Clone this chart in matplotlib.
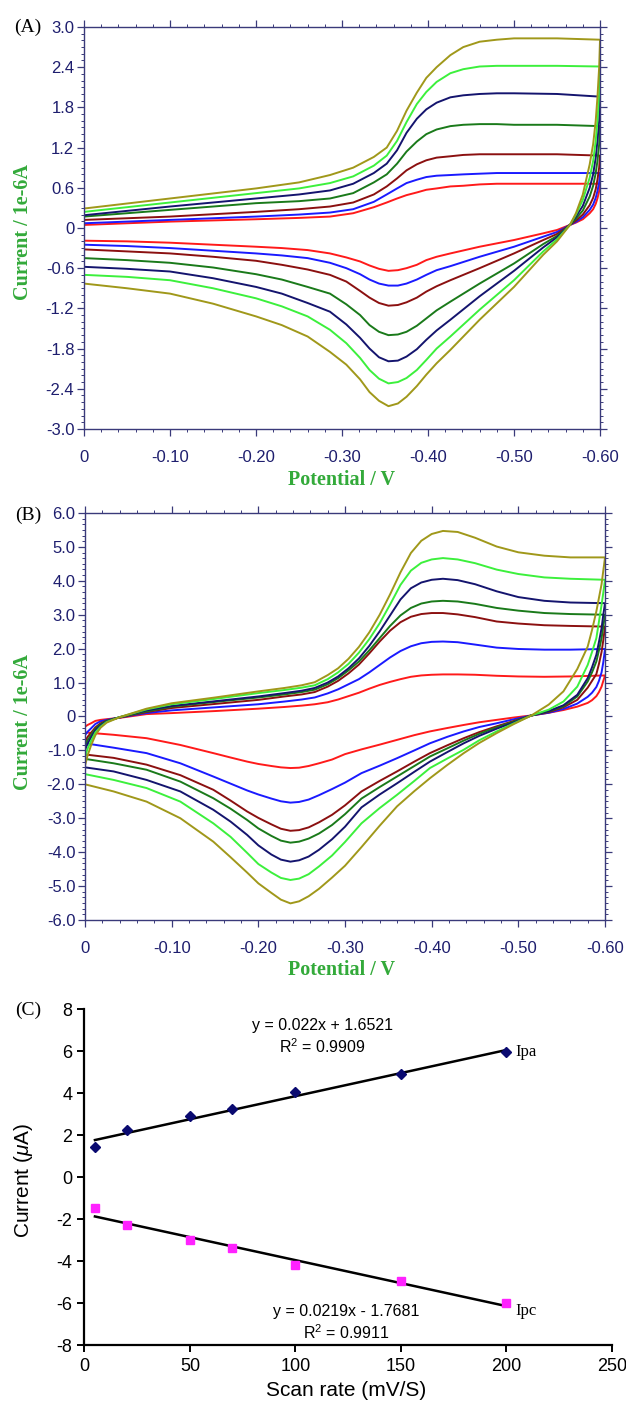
import numpy as np
import matplotlib
matplotlib.use("Agg")
import matplotlib.pyplot as plt
from matplotlib.ticker import FixedLocator, MultipleLocator, AutoMinorLocator, FuncFormatter

plt.rcParams['font.family'] = ['Liberation Sans', 'DejaVu Sans']
plt.rcParams['axes.unicode_minus'] = False
plt.rcParams['mathtext.fontset'] = 'custom'
plt.rcParams['mathtext.rm'] = 'Liberation Sans'
plt.rcParams['mathtext.it'] = 'Liberation Sans:italic'

# ---------------- panel A : CV curves (potential in V, current in 1e-6 A)
a_fwd_v = [0, -0.1, -0.2, -0.25, -0.286, -0.313, -0.337, -0.352, -0.364, -0.375, -0.387, -0.398,
           -0.41, -0.426, -0.441, -0.46, -0.48, -0.5, -0.55, -0.6]
a_red_fwd = [0.045, 0.095, 0.13, 0.15, 0.17, 0.22, 0.31, 0.38, 0.44, 0.49, 0.53, 0.57,
             0.59, 0.62, 0.63, 0.65, 0.66, 0.66, 0.66, 0.66]
a_blue_fwd = [0.07, 0.12, 0.17, 0.20, 0.23, 0.28, 0.39, 0.50, 0.59, 0.67, 0.72, 0.76,
              0.78, 0.79, 0.80, 0.81, 0.82, 0.82, 0.82, 0.82]
a_maroon_fwd = [0.12, 0.17, 0.24, 0.28, 0.32, 0.38, 0.50, 0.62, 0.74, 0.86, 0.95, 1.01,
                1.05, 1.07, 1.09, 1.10, 1.10, 1.10, 1.10, 1.08]
a_dkgreen_fwd = [0.17, 0.27, 0.37, 0.40, 0.44, 0.52, 0.68, 0.80, 0.96, 1.14, 1.29, 1.40,
                 1.47, 1.52, 1.54, 1.55, 1.55, 1.54, 1.54, 1.52]
a_navy_fwd = [0.19, 0.32, 0.44, 0.50, 0.56, 0.66, 0.82, 0.96, 1.16, 1.42, 1.63, 1.77,
              1.87, 1.95, 1.98, 2.00, 2.01, 2.01, 2.00, 1.96]
a_lime_fwd = [0.24, 0.38, 0.52, 0.59, 0.67, 0.77, 0.93, 1.08, 1.30, 1.58, 1.85, 2.03,
              2.18, 2.31, 2.37, 2.41, 2.42, 2.42, 2.42, 2.41]
a_olive_fwd = [0.29, 0.44, 0.59, 0.68, 0.79, 0.90, 1.06, 1.20, 1.45, 1.75, 2.02, 2.24,
               2.40, 2.58, 2.70, 2.78, 2.81, 2.83, 2.83, 2.81]

a_rev_v = [-0.6, -0.599, -0.597, -0.595, -0.592, -0.588, -0.58, -0.572, -0.565, -0.55, -0.534,
           -0.5, -0.46, -0.426, -0.41, -0.398, -0.387, -0.375, -0.365, -0.354, -0.343, -0.332,
           -0.321, -0.305, -0.286, -0.26, -0.23, -0.2, -0.15, -0.1, -0.05, 0]
a_red_rev = [0.66, 0.55, 0.44, 0.36, 0.28, 0.22, 0.13, 0.08, 0.045, -0.03, -0.08,
             -0.18, -0.28, -0.38, -0.43, -0.48, -0.55, -0.60, -0.63, -0.64, -0.61, -0.56,
             -0.50, -0.44, -0.38, -0.33, -0.30, -0.28, -0.25, -0.22, -0.20, -0.19]
a_blue_rev = [0.82, 0.68, 0.55, 0.45, 0.35, 0.27, 0.16, 0.09, 0.045, -0.06, -0.13,
              -0.28, -0.43, -0.57, -0.63, -0.70, -0.77, -0.83, -0.86, -0.86, -0.83, -0.77,
              -0.69, -0.60, -0.52, -0.45, -0.41, -0.38, -0.34, -0.30, -0.27, -0.25]
a_maroon_rev = [1.08, 0.90, 0.72, 0.58, 0.45, 0.34, 0.20, 0.11, 0.045, -0.09, -0.18,
                -0.38, -0.60, -0.78, -0.87, -0.95, -1.04, -1.11, -1.15, -1.16, -1.12, -1.04,
                -0.94, -0.80, -0.70, -0.62, -0.55, -0.49, -0.43, -0.38, -0.35, -0.32]
a_dkgreen_rev = [1.52, 1.25, 1.00, 0.82, 0.63, 0.47, 0.26, 0.14, 0.045, -0.12, -0.24,
                 -0.53, -0.83, -1.10, -1.23, -1.35, -1.46, -1.55, -1.59, -1.60, -1.55, -1.45,
                 -1.30, -1.14, -0.98, -0.88, -0.77, -0.69, -0.59, -0.52, -0.48, -0.45]
a_navy_rev = [1.96, 1.60, 1.30, 1.05, 0.80, 0.60, 0.33, 0.17, 0.045, -0.14, -0.29,
              -0.64, -1.02, -1.37, -1.53, -1.67, -1.81, -1.92, -1.98, -1.99, -1.93, -1.80,
              -1.64, -1.44, -1.25, -1.12, -0.98, -0.88, -0.75, -0.65, -0.61, -0.58]
a_lime_rev = [2.41, 2.00, 1.60, 1.30, 1.00, 0.75, 0.42, 0.20, 0.045, -0.17, -0.35,
              -0.78, -1.22, -1.62, -1.80, -1.97, -2.12, -2.24, -2.30, -2.32, -2.25, -2.12,
              -1.94, -1.72, -1.52, -1.32, -1.17, -1.05, -0.90, -0.78, -0.73, -0.70]
a_olive_rev = [2.81, 2.40, 1.95, 1.60, 1.25, 0.95, 0.50, 0.22, 0.045, -0.20, -0.40,
               -0.88, -1.37, -1.82, -2.02, -2.19, -2.36, -2.52, -2.62, -2.66, -2.58, -2.45,
               -2.26, -2.04, -1.85, -1.62, -1.45, -1.32, -1.13, -0.98, -0.90, -0.83]

# ---------------- panel B
b_fwd_v = [0, -0.003, -0.007, -0.012, -0.018, -0.025, -0.04, -0.071, -0.1, -0.15,
           -0.2, -0.23, -0.25, -0.265, -0.28, -0.292, -0.304, -0.316, -0.328, -0.34, -0.352,
           -0.364, -0.376, -0.388, -0.4, -0.413, -0.43, -0.45, -0.475, -0.5, -0.53, -0.56, -0.6]
b_red_fwd = [-0.30, -0.25, -0.20, -0.13, -0.10, -0.08, -0.04, 0.07, 0.10, 0.16,
             0.23, 0.28, 0.32, 0.36, 0.42, 0.50, 0.60, 0.70, 0.82, 0.93, 1.02,
             1.10, 1.17, 1.21, 1.23, 1.24, 1.24, 1.23, 1.20, 1.18, 1.17, 1.18, 1.21]
b_blue_fwd = [-0.55, -0.45, -0.35, -0.22, -0.14, -0.10, -0.03, 0.10, 0.18, 0.27,
              0.36, 0.44, 0.50, 0.56, 0.68, 0.80, 0.95, 1.10, 1.30, 1.52, 1.74,
              1.93, 2.07, 2.16, 2.20, 2.21, 2.19, 2.12, 2.03, 1.99, 1.97, 1.97, 1.99]
b_maroon_fwd = [-0.75, -0.60, -0.48, -0.32, -0.20, -0.12, -0.03, 0.13, 0.25, 0.37,
                0.49, 0.59, 0.65, 0.72, 0.88, 1.05, 1.27, 1.53, 1.86, 2.21, 2.53,
                2.78, 2.94, 3.02, 3.05, 3.05, 3.01, 2.93, 2.80, 2.74, 2.69, 2.67, 2.65]
b_dkgreen_fwd = [-0.85, -0.70, -0.55, -0.36, -0.23, -0.13, -0.02, 0.15, 0.29, 0.43,
                 0.56, 0.65, 0.72, 0.79, 0.95, 1.13, 1.36, 1.62, 1.95, 2.31, 2.67,
                 2.98, 3.20, 3.33, 3.39, 3.41, 3.39, 3.32, 3.20, 3.12, 3.05, 3.02, 3.00]
b_navy_fwd = [-1.00, -0.80, -0.62, -0.40, -0.26, -0.14, -0.02, 0.18, 0.31, 0.45,
              0.59, 0.69, 0.76, 0.84, 1.00, 1.18, 1.42, 1.71, 2.08, 2.51, 2.98,
              3.45, 3.78, 3.95, 4.03, 4.06, 4.02, 3.90, 3.69, 3.52, 3.41, 3.36, 3.34]
b_lime_fwd = [-1.20, -0.95, -0.72, -0.47, -0.30, -0.16, -0.02, 0.21, 0.36, 0.52,
              0.69, 0.78, 0.85, 0.92, 1.10, 1.30, 1.55, 1.88, 2.28, 2.75, 3.30,
              3.88, 4.30, 4.53, 4.63, 4.67, 4.63, 4.52, 4.33, 4.20, 4.10, 4.06, 4.03]
b_olive_fwd = [-1.45, -1.15, -0.85, -0.55, -0.33, -0.18, -0.02, 0.23, 0.39, 0.56,
               0.74, 0.84, 0.92, 1.01, 1.22, 1.42, 1.70, 2.05, 2.48, 3.00, 3.60,
               4.25, 4.82, 5.18, 5.38, 5.47, 5.44, 5.27, 5.01, 4.84, 4.74, 4.69, 4.69]

b_rev_v = [-0.6, -0.598, -0.596, -0.593, -0.59, -0.585, -0.58, -0.568, -0.552, -0.535, -0.515,
           -0.495, -0.475, -0.455, -0.437, -0.418, -0.398, -0.38, -0.36, -0.34, -0.319,
           -0.3, -0.285, -0.27, -0.258, -0.247, -0.237, -0.226, -0.215, -0.2, -0.187, -0.168,
           -0.148, -0.11, -0.071, -0.033, 0]
b_red_rev = [1.21, 1.05, 0.88, 0.72, 0.60, 0.48, 0.40, 0.29, 0.19, 0.11, 0.03,
             -0.03, -0.10, -0.17, -0.25, -0.34, -0.44, -0.55, -0.69, -0.83, -0.97,
             -1.11, -1.27, -1.38, -1.46, -1.51, -1.52, -1.50, -1.46, -1.40, -1.33, -1.21,
             -1.08, -0.84, -0.64, -0.54, -0.47]
b_blue_rev = [1.99, 1.60, 1.30, 1.05, 0.87, 0.70, 0.58, 0.38, 0.22, 0.11, 0.03,
              -0.08, -0.20, -0.31, -0.44, -0.60, -0.79, -1.00, -1.23, -1.45, -1.67,
              -1.95, -2.14, -2.32, -2.45, -2.52, -2.54, -2.50, -2.42, -2.30, -2.18, -1.98,
              -1.77, -1.38, -1.08, -0.92, -0.79]
b_maroon_rev = [2.65, 2.25, 1.90, 1.55, 1.25, 1.05, 0.85, 0.49, 0.27, 0.13, 0.03,
                -0.13, -0.29, -0.46, -0.64, -0.85, -1.08, -1.33, -1.62, -1.90, -2.21,
                -2.62, -2.90, -3.12, -3.27, -3.35, -3.37, -3.31, -3.18, -2.99, -2.80, -2.48,
                -2.16, -1.73, -1.42, -1.22, -1.12]
b_dkgreen_rev = [3.00, 2.65, 2.31, 1.95, 1.62, 1.30, 1.03, 0.59, 0.30, 0.15, 0.03,
                 -0.15, -0.32, -0.51, -0.71, -0.94, -1.18, -1.46, -1.77, -2.08, -2.42,
                 -2.88, -3.20, -3.45, -3.60, -3.69, -3.72, -3.66, -3.52, -3.30, -3.05, -2.72,
                 -2.41, -1.92, -1.57, -1.38, -1.25]
b_navy_rev = [3.34, 3.00, 2.60, 2.20, 1.82, 1.45, 1.13, 0.64, 0.33, 0.16, 0.03,
              -0.17, -0.36, -0.57, -0.79, -1.05, -1.33, -1.63, -1.97, -2.30, -2.68,
              -3.25, -3.62, -3.93, -4.13, -4.24, -4.28, -4.22, -4.07, -3.80, -3.49, -3.10,
              -2.75, -2.21, -1.87, -1.62, -1.50]
b_lime_rev = [4.03, 3.65, 3.29, 2.80, 2.31, 1.90, 1.52, 0.88, 0.44, 0.20, 0.03,
              -0.20, -0.44, -0.70, -0.98, -1.24, -1.52, -1.90, -2.31, -2.70, -3.15,
              -3.70, -4.10, -4.42, -4.65, -4.78, -4.82, -4.76, -4.60, -4.35, -4.02, -3.55,
              -3.15, -2.51, -2.11, -1.87, -1.70]
b_olive_rev = [4.69, 4.30, 3.90, 3.50, 3.10, 2.55, 2.06, 1.40, 0.74, 0.35, 0.03,
               -0.22, -0.49, -0.78, -1.08, -1.43, -1.82, -2.20, -2.65, -3.22, -3.85,
               -4.40, -4.75, -5.08, -5.30, -5.45, -5.51, -5.40, -5.20, -4.92, -4.60, -4.15,
               -3.69, -3.00, -2.51, -2.21, -2.00]

# ---------------- panel C : peak current vs scan rate
scan_rate = [5, 20, 50, 70, 100, 150, 200]
ipa = [1.42, 2.22, 2.89, 3.24, 4.03, 4.90, 5.94]
ipc = [-1.49, -2.28, -2.99, -3.39, -4.19, -4.95, -5.99]
ipa_slope, ipa_icpt = 0.022, 1.6521
ipc_slope, ipc_icpt = -0.0219, -1.7681

colors = ['#ff1a1a', '#1a1aff', '#8b1010', '#1a7a1a', '#14146e', '#3cf03c', '#a0981a']
frame_c = '#3a3a7a'
tick_c = '#1e1e6e'
label_green = '#33aa3a'

fig = plt.figure(figsize=(6.26, 14.05), dpi=100)


def cv_panel(rect, fwd_v, fwd_list, rev_v, rev_list, closed, ymax, ystep):
    ax = fig.add_axes(rect)
    for col, f, r in zip(colors, fwd_list, rev_list):
        xs = list(fwd_v) + list(rev_v)
        ys = list(f) + list(r)
        if closed:
            xs = xs + [fwd_v[0]]
            ys = ys + [f[0]]
        ax.plot(xs, ys, color=col, lw=1.4, solid_joinstyle='round')
    ax.set_xlim(0, -0.6)
    ax.set_ylim(-ymax, ymax)
    ax.xaxis.set_major_locator(FixedLocator(np.arange(0, -0.61, -0.1)))
    ax.xaxis.set_minor_locator(AutoMinorLocator(5))
    ax.yaxis.set_major_locator(MultipleLocator(ystep))
    ax.yaxis.set_minor_locator(AutoMinorLocator(6))
    ax.xaxis.set_major_formatter(FuncFormatter(lambda v, p: '0' if abs(v) < 1e-9 else '%.2f' % v))
    ax.yaxis.set_major_formatter(FuncFormatter(lambda v, p: '0' if abs(v) < 1e-9 else '%.1f' % v))
    for s in ax.spines.values():
        s.set_color(frame_c)
        s.set_linewidth(1.0)
    ax.tick_params(which='both', direction='out', top=True, right=True, colors=frame_c)
    ax.tick_params(which='major', length=5, width=0.9, labelsize=12, labelcolor=tick_c)
    ax.tick_params(which='minor', length=2.5, width=0.7)
    ax.tick_params(axis='x', which='major', pad=10)
    ax.tick_params(axis='y', which='major', pad=2)
    return ax


ax_a = cv_panel([0.1342, 0.6947, 0.8243, 0.2861], a_fwd_v,
                [a_red_fwd, a_blue_fwd, a_maroon_fwd, a_dkgreen_fwd, a_navy_fwd, a_lime_fwd, a_olive_fwd],
                a_rev_v,
                [a_red_rev, a_blue_rev, a_maroon_rev, a_dkgreen_rev, a_navy_rev, a_lime_rev, a_olive_rev],
                False, 3.0, 0.6)
ax_b = cv_panel([0.1358, 0.3452, 0.8307, 0.2897], b_fwd_v,
                [b_red_fwd, b_blue_fwd, b_maroon_fwd, b_dkgreen_fwd, b_navy_fwd, b_lime_fwd, b_olive_fwd],
                b_rev_v,
                [b_red_rev, b_blue_rev, b_maroon_rev, b_dkgreen_rev, b_navy_rev, b_lime_rev, b_olive_rev],
                True, 6.0, 1.0)

serif = ['Liberation Serif', 'DejaVu Serif']
for yc, xl_y in [(0.8349, 0.6584), (0.4861, 0.3096)]:
    fig.text(0.037, yc, 'Current / 1e-6A', rotation=90, ha='center', va='center',
             family=serif, fontweight='bold', fontsize=14.5, color=label_green)
    fig.text(0.546, xl_y, 'Potential / V', ha='center', va='center',
             family=serif, fontweight='bold', fontsize=14.5, color=label_green)

for lab, yy in [('(A)', 0.9808), ('(B)', 0.6335), ('(C)', 0.2811)]:
    fig.text(0.0447, yy, lab, ha='center', va='center', family=serif, fontsize=14)

# ---------------- panel C drawing
ax_c = fig.add_axes([0.1348, 0.0427, 0.8428, 0.2391])
xfit = np.array([scan_rate[0], scan_rate[-1]])
ax_c.plot(xfit, ipa_slope * xfit + ipa_icpt, color='black', lw=1.8)
ax_c.plot(xfit, ipc_slope * xfit + ipc_icpt, color='black', lw=1.8)
ax_c.plot(scan_rate, ipa, 'D', color='#0a0a70', ms=5.5, ls='none')
ax_c.plot(scan_rate, ipc, 's', color='#ff22ff', ms=5.5, ls='none')
ax_c.set_xlim(0, 250)
ax_c.set_ylim(-8, 8)
ax_c.xaxis.set_major_locator(MultipleLocator(50))
ax_c.yaxis.set_major_locator(MultipleLocator(2))
for side in ['top', 'right']:
    ax_c.spines[side].set_visible(False)
for side in ['left', 'bottom']:
    ax_c.spines[side].set_linewidth(1.6)
ax_c.tick_params(direction='out', length=5, width=1.4, labelsize=13)
ax_c.tick_params(axis='x', pad=4)
ax_c.text(113, 7.2, 'y = 0.022x + 1.6521', ha='center', va='center', fontsize=11.5)
ax_c.text(113, 6.2, 'R$^2$ = 0.9909', ha='center', va='center', fontsize=11.5)
ax_c.text(124, -6.4, 'y = 0.0219x - 1.7681', ha='center', va='center', fontsize=11.5)
ax_c.text(124, -7.4, 'R$^2$ = 0.9911', ha='center', va='center', fontsize=11.5)
ax_c.text(204, 5.95, 'Ipa', ha='left', va='center', family=serif, fontsize=12)
ax_c.text(204, -6.4, 'Ipc', ha='left', va='center', family=serif, fontsize=12)
fig.text(0.038, 0.160, 'Current ($\\mu$A)', rotation=90, ha='center', va='center', fontsize=15)
fig.text(0.553, 0.0105, 'Scan rate (mV/S)', ha='center', va='center', fontsize=15)

fig.savefig('out.png', dpi=100)
